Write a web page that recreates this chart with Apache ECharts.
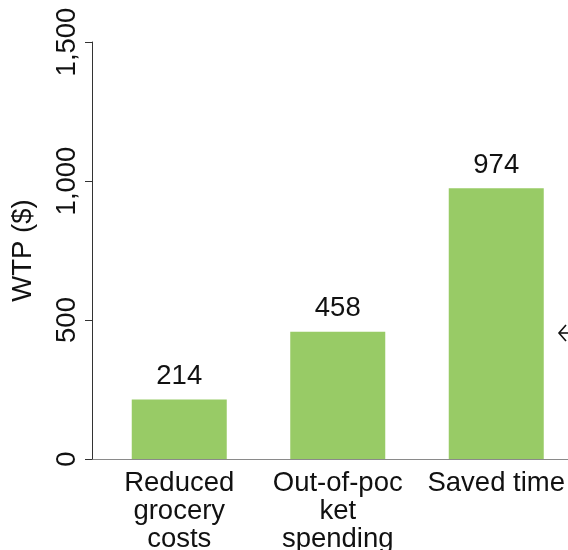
<!DOCTYPE html>
<html>
<head>
<meta charset="utf-8">
<script src="https://cdn.jsdelivr.net/npm/echarts@6/dist/echarts.min.js"></script>
<style>
  html, body { margin: 0; padding: 0; background: #fff; }
  #chart { width: 568px; height: 550px; }
</style>
</head>
<body>
<div id="chart"></div>
<script>
// Willingness to pay by benefit type
const categories = ['Reduced\ngrocery\ncosts', 'Out-of-poc\nket\nspending', 'Saved time'];
const wtpValues = [214, 458, 974];
const yTicks = [0, 500, 1000, 1500];

const FONT = 'Liberation Sans, Arial, Helvetica, sans-serif';
const FS = 27.5;
const chart = echarts.init(document.getElementById('chart'), null, { renderer: 'canvas' });

chart.setOption({
  animation: false,
  textStyle: { fontFamily: FONT },
  grid: { left: 100, top: 42, height: 417, width: 475.5, containLabel: false, outerBoundsMode: 'none' },
  xAxis: {
    type: 'category',
    data: categories,
    axisLine: { lineStyle: { color: '#8a8a8a', width: 1 } },
    axisTick: { show: false },
    axisLabel: {
      color: '#111',
      fontSize: FS,
      lineHeight: 28,
      margin: 10,
      interval: 0,
      fontFamily: FONT
    }
  },
  yAxis: {
    type: 'value',
    min: yTicks[0],
    max: yTicks[yTicks.length - 1],
    interval: yTicks[1] - yTicks[0],
    offset: 8,
    name: 'WTP ($)',
    nameLocation: 'middle',
    nameGap: 55,
    nameRotate: 90,
    nameTextStyle: { color: '#111', fontSize: FS, fontFamily: FONT },
    splitLine: { show: false },
    axisLine: { show: true, lineStyle: { color: '#333', width: 1 } },
    axisTick: { show: true, length: 7, lineStyle: { color: '#333' } },
    axisLabel: {
      rotate: 90,
      color: '#111',
      fontSize: FS,
      margin: 11,
      fontFamily: FONT,
      formatter: v => v.toLocaleString('en-US')
    }
  },
  series: [{
    type: 'bar',
    data: wtpValues,
    barWidth: 95,
    itemStyle: { color: '#98cb66' },
    label: {
      show: true,
      position: 'top',
      distance: 9,
      color: '#111',
      fontSize: FS,
      fontFamily: FONT
    }
  }],
  graphic: [
    // join the offset value axis to the baseline
    { type: 'line', shape: { x1: 92, y1: 459.5, x2: 100, y2: 459.5 }, style: { stroke: '#8a8a8a', lineWidth: 1 } },
    // arrow pointing at the tall bar, running off the right edge
    { type: 'polyline', shape: { points: [[566, 325], [559, 333], [566, 341]] }, style: { stroke: '#111', lineWidth: 1.6, fill: null } },
    { type: 'line', shape: { x1: 559, y1: 333, x2: 570, y2: 333 }, style: { stroke: '#111', lineWidth: 1.6 } }
  ]
});
</script>
</body>
</html>
